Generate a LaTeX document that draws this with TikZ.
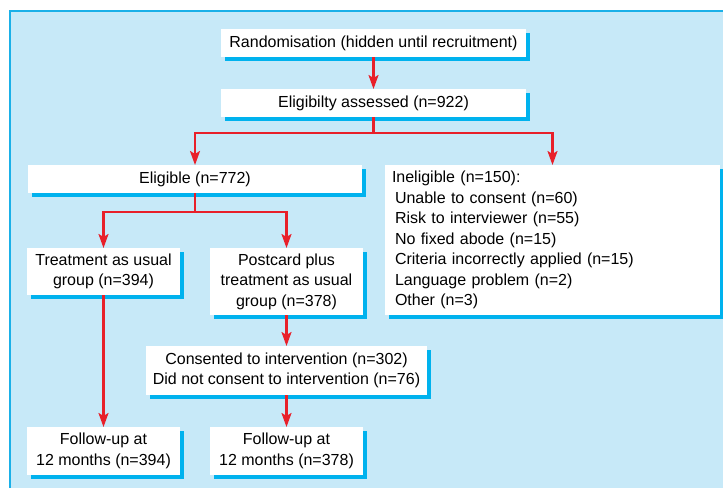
\documentclass[tikz,border=0pt]{standalone}
\usepackage{fontspec}
\setmainfont{Liberation Sans}
\usetikzlibrary{arrows.meta,shadows}
\definecolor{bgblue}{HTML}{C7E9F8}
\definecolor{edgeblue}{HTML}{1AB0E8}
\definecolor{shadowblue}{HTML}{00B2EE}
\definecolor{arrred}{HTML}{E8202A}
\begin{document}
\begin{tikzpicture}[x=1pt,y=-1pt,
  box/.style={fill=white, inner sep=0pt, outer sep=0pt, align=center,
    font=\fontsize{16}{20.5}\selectfont,
    drop shadow={shadow xshift=3.5pt, shadow yshift=-3.5pt, fill=shadowblue, opacity=1}},
  arr/.style={draw=arrred, line width=2.2pt, -{Stealth[length=14pt,width=10pt,inset=3pt]}}]
\useasboundingbox (0,0) rectangle (723,488);
\fill[white] (0,0) rectangle (723,488);
\fill[bgblue] (10,11) rectangle (723,488);
\draw[edgeblue, line width=1.8pt] (10,488) -- (10,11) -- (723,11);

\node[box, minimum width=305pt, minimum height=28pt] (rand) at (373.5,43) {Randomisation (hidden until recruitment)};
\node[box, minimum width=305pt, minimum height=28pt] (elig) at (373.5,103) {Eligibilty assessed (n=922)};
\node[box, minimum width=334pt, minimum height=28pt] (eligible) at (195,179) {Eligible (n=772)};
\node[box, minimum width=335pt, minimum height=150pt, text width=321pt, inner xsep=7pt, align=left] (inel) at (552.5,240) {Ineligible (n=150):\\
\hspace*{3pt}Unable to consent (n=60)\\
\hspace*{3pt}Risk to interviewer (n=55)\\
\hspace*{3pt}No fixed abode (n=15)\\
\hspace*{3pt}Criteria incorrectly applied (n=15)\\
\hspace*{3pt}Language problem (n=2)\\
\hspace*{3pt}Other (n=3)};
\node[box, minimum width=153pt, minimum height=47pt] (tau) at (103.5,271.5) {Treatment as usual\\group (n=394)};
\node[box, minimum width=153pt, minimum height=67pt] (post) at (286.5,281.5) {Postcard plus\\treatment as usual\\group (n=378)};
\node[box, minimum width=281pt, minimum height=49pt] (cons) at (286.5,370.5) {Consented to intervention (n=302)\\Did not consent to intervention (n=76)};
\node[box, minimum width=153pt, minimum height=48pt] (fu1) at (103.5,451) {Follow-up at\\12 months (n=394)};
\node[box, minimum width=153pt, minimum height=48pt] (fu2) at (286.5,451) {Follow-up at\\12 months (n=378)};

\draw[arr] (rand.south) -- (elig.north);
\draw[arr] (elig.south) -- ++(0,16) -| (eligible.north);
\draw[arr] (elig.south) -- ++(0,16) -| (inel.north);
\draw[arr] (eligible.south) -- ++(0,19) -| (tau.north);
\draw[arr] (eligible.south) -- ++(0,19) -| (post.north);
\draw[arr] (tau.south) -- (fu1.north);
\draw[arr] (post.south) -- (cons.north);
\draw[arr] (cons.south) -- (fu2.north);
\end{tikzpicture}
\end{document}
